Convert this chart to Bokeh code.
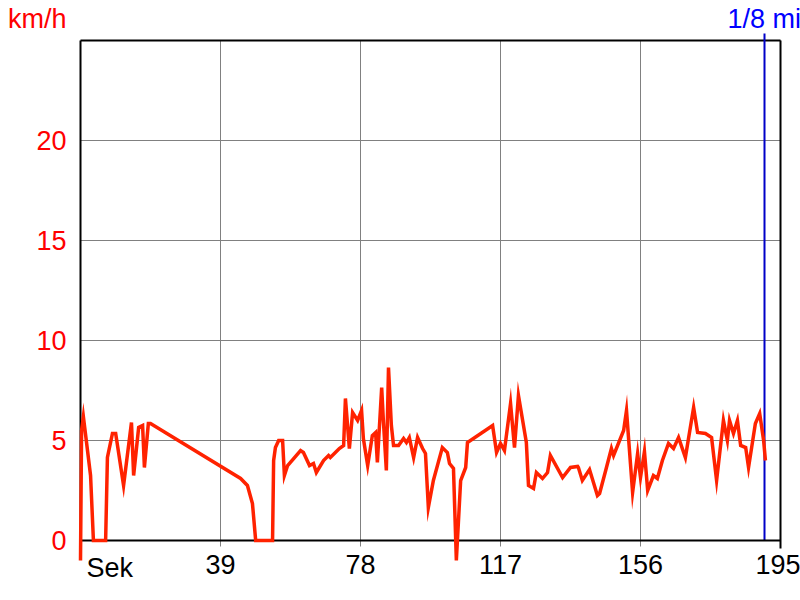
from bokeh.plotting import figure
from bokeh.models import LinearAxis, FixedTicker, Label, Range1d
from bokeh.embed import file_html
from bokeh.resources import INLINE

# ---- data ----
seconds = [0, 0.3, 0.8, 2.8, 3.6, 7.0, 7.5, 8.9, 9.8, 12.0,
           14.2, 14.8, 16.2, 17.3, 17.8, 18.9, 19.5, 44.6, 46.5, 47.9,
           48.8, 53.5, 53.8, 54.3, 55.2, 56.3, 56.8, 57.7, 61.3, 62.1,
           63.8, 64.9, 65.7, 67.7, 69.1, 69.6, 71.0, 72.1, 73.3, 73.8,
           74.9, 75.8, 77.2, 78.3, 78.8, 80.0, 81.3, 82.2, 82.7, 83.9,
           84.4, 85.2, 85.8, 86.6, 87.2, 88.6, 90.0, 90.8, 91.6, 92.8,
           93.9, 95.3, 96.1, 96.9, 98.3, 100.8, 102.2, 102.8, 103.9, 104.7,
           105.9, 107.3, 107.8, 114.8, 115.9, 117.0, 118.1, 119.8, 120.9, 122.0,
           124.2, 124.8, 126.2, 127.0, 128.7, 130.1, 130.9, 134.3, 136.5, 138.5,
           138.7, 139.8, 141.8, 144.0, 144.6, 146.3, 147.9, 148.5, 151.3, 152.1,
           153.8, 155.2, 156.0, 157.1, 158.0, 159.6, 160.7, 162.1, 163.8, 165.2,
           166.6, 168.5, 170.8, 171.9, 174.1, 175.8, 177.2, 179.1, 180.2, 180.8,
           181.9, 183.0, 183.9, 185.3, 186.1, 188.0, 189.2, 190.3, 190.8]
speed_kmh = [-1.0, 5.5, 6.2, 3.25, 0, 0, 4.15, 5.35, 5.35, 2.75,
             5.9, 3.25, 5.65, 5.75, 3.65, 5.85, 5.85, 3.1, 2.75, 1.85,
             0, 0, 4.0, 4.65, 5.0, 5.0, 3.25, 3.75, 4.5, 4.4,
             3.75, 3.85, 3.4, 4.0, 4.25, 4.15, 4.4, 4.6, 4.75, 7.1,
             4.6, 6.4, 6.0, 6.5, 5.1, 3.75, 5.25, 5.4, 3.9, 7.65,
             5.9, 3.5, 8.65, 5.75, 4.75, 4.75, 5.1, 4.9, 5.15, 4.15,
             5.15, 4.6, 4.35, 1.65, 3.0, 4.65, 4.4, 3.85, 3.6, -1.0,
             3.0, 3.65, 4.9, 5.75, 4.4, 4.85, 4.5, 6.85, 4.65, 7.25,
             4.9, 2.75, 2.6, 3.4, 3.1, 3.4, 4.25, 3.15, 3.65, 3.7,
             3.65, 3.0, 3.55, 2.25, 2.35, 3.5, 4.6, 4.25, 5.5, 6.5,
             2.4, 4.35, 3.15, 4.45, 2.5, 3.25, 3.1, 4.0, 4.85, 4.6,
             5.15, 4.15, 6.65, 5.4, 5.35, 5.15, 3.0, 6.0, 5.0, 6.0,
             5.35, 6.0, 4.75, 4.65, 3.65, 5.85, 6.35, 5.0, 4.0]
x_ticks = [39, 78, 117, 156, 195]
y_ticks = [0, 5, 10, 15, 20]
y_grid_ticks = [5, 10, 15, 20]
marker_sec = [190.5]
marker_label = "1/8 mi"
y_unit = "km/h"
x_unit = "Sek"
x_max = 195
y_max = 25

FONT = "Liberation Sans"
FS = "27px"
RED = "#ff0000"
BLUE_TEXT = "#0000ff"
BLUE_LINE = "#0000c8"
GRAY = "#808080"

# the frame covers the whole canvas; the chart box is drawn by fixed axes
p = figure(width=800, height=600, output_backend="svg", toolbar_location=None,
           x_range=Range1d(-22.2857, 200.5714), y_range=Range1d(-3, 27),
           x_axis_location=None, y_axis_location=None, min_border=0)
p.center = []
p.background_fill_color = "white"
p.border_fill_color = "white"
p.outline_line_color = None


def no_minor(ax):
    ax.minor_tick_in = 0
    ax.minor_tick_out = 0
    ax.minor_tick_line_color = None


# vertical grid lines (as long inward ticks of a hidden bottom axis)
gx = LinearAxis(ticker=FixedTicker(ticks=x_ticks), fixed_location=0, level="underlay",
                axis_line_color=None, major_tick_in=500, major_tick_out=6,
                major_tick_line_color=GRAY, major_tick_line_width=1,
                major_label_text_color=None)
no_minor(gx)
p.add_layout(gx, "below")

# horizontal grid lines (as long inward ticks of a hidden left axis)
gy = LinearAxis(ticker=FixedTicker(ticks=y_grid_ticks), fixed_location=0, level="underlay",
                axis_line_color=None, major_tick_in=700, major_tick_out=0,
                major_tick_line_color=GRAY, major_tick_line_width=1,
                major_label_text_color=None)
no_minor(gy)
p.add_layout(gy, "left")

# bottom axis with labels
xaxis = LinearAxis(ticker=FixedTicker(ticks=x_ticks), fixed_location=0, bounds=(0, x_max),
                   axis_line_color="black", axis_line_width=2,
                   major_tick_in=0, major_tick_out=0, major_tick_line_color=None,
                   major_label_text_color="black", major_label_text_font=FONT,
                   major_label_text_font_size=FS, major_label_standoff=14)
no_minor(xaxis)
p.add_layout(xaxis, "below")

# left axis with labels
yaxis = LinearAxis(ticker=FixedTicker(ticks=y_ticks), fixed_location=0, bounds=(0, y_max),
                   axis_line_color="black", axis_line_width=2,
                   major_tick_in=0, major_tick_out=0, major_tick_line_color=None,
                   major_label_text_color=RED, major_label_text_font=FONT,
                   major_label_text_font_size=FS, major_label_standoff=14)
no_minor(yaxis)
p.add_layout(yaxis, "left")

# top border with the distance marker line
taxis = LinearAxis(ticker=FixedTicker(ticks=marker_sec), fixed_location=y_max,
                   bounds=(0, x_max),
                   axis_line_color="black", axis_line_width=2,
                   major_tick_in=500, major_tick_out=7,
                   major_tick_line_color=BLUE_LINE, major_tick_line_width=2,
                   major_label_text_color=None)
no_minor(taxis)
p.add_layout(taxis, "above")

# right border
raxis = LinearAxis(ticker=FixedTicker(ticks=[]), fixed_location=x_max, bounds=(-0.4, y_max),
                   axis_line_color="black", axis_line_width=2,
                   major_tick_in=0, major_tick_out=0, major_tick_line_color=None,
                   major_label_text_color=None)
no_minor(raxis)
p.add_layout(raxis, "right")

p.line(seconds, speed_kmh, line_color="#ff2200", line_width=3.5,
       line_join="miter", level="overlay")

p.add_layout(Label(x=0, y=y_max, text=y_unit, text_align="right",
                   text_baseline="alphabetic", x_offset=-14, y_offset=22,
                   text_color=RED, text_font=FONT, text_font_size=FS))
p.add_layout(Label(x=marker_sec[0], y=y_max, text=marker_label, text_align="center",
                   text_baseline="alphabetic", y_offset=22,
                   text_color=BLUE_TEXT, text_font=FONT, text_font_size=FS))
p.add_layout(Label(x=0, y=0, text=x_unit, text_align="left",
                   text_baseline="alphabetic", x_offset=6, y_offset=-27,
                   text_color="black", text_font=FONT, text_font_size=FS))

open("out.html", "w").write(file_html(p, INLINE))
